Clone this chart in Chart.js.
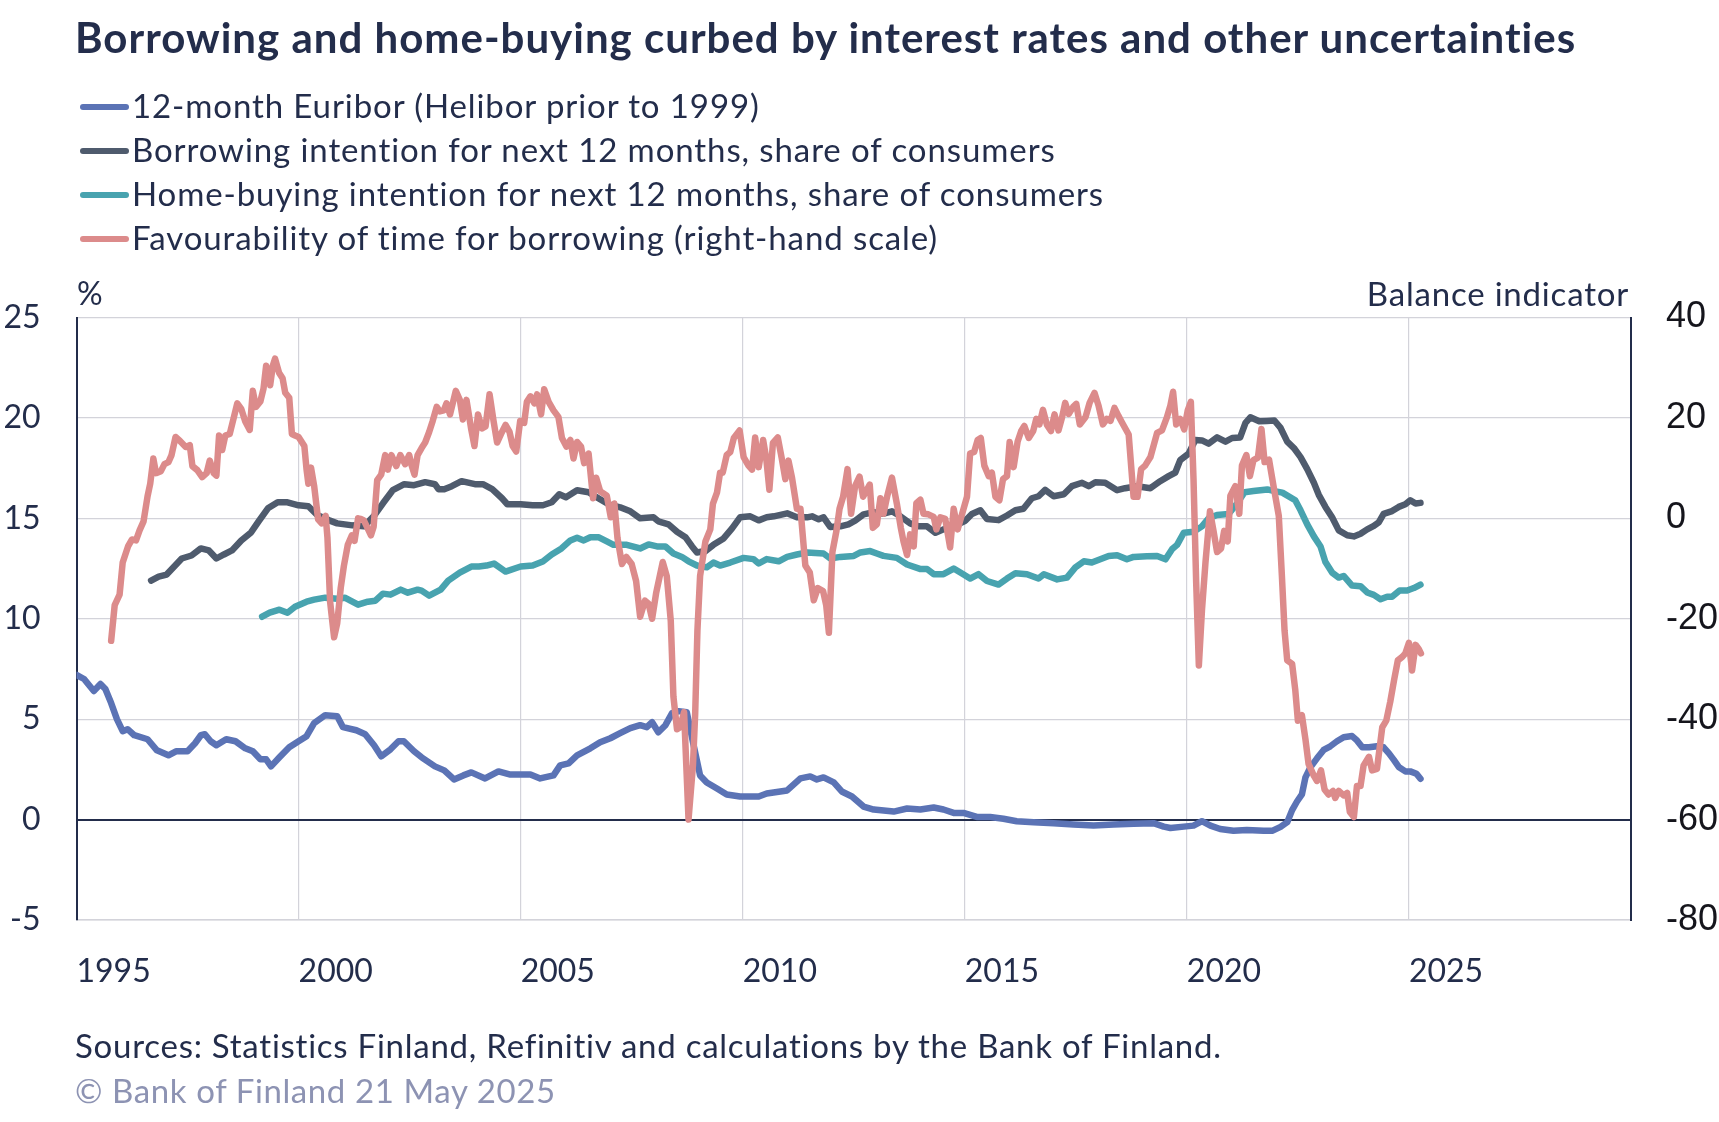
<!DOCTYPE html>
<html>
<head>
<meta charset="utf-8">
<title>Borrowing and home-buying</title>
<script src="https://cdn.jsdelivr.net/npm/chart.js@4.4.1/dist/chart.umd.min.js"></script>
<style>
  body { margin: 0; background: #fff; }
  #wrap { position: relative; width: 1719px; height: 1122px; font-family: Lato, "Open Sans", sans-serif; color: #232d4b; }
  #chart { position: absolute; left: 0; top: 0; }
  .t { position: absolute; white-space: nowrap; line-height: 1; }
  #title { left: 75px; top: 16px; font-size: 42px; font-weight: 700; letter-spacing: 1px; }
  #unitL { left: 77px; top: 277px; font-size: 32px; }
  #unitR { right: 90px; top: 277px; font-size: 33px; letter-spacing: 0.8px; }
  #src { left: 75px; top: 1029px; font-size: 33px; letter-spacing: 0.75px; }
  #copy { left: 75px; top: 1074px; font-size: 33px; letter-spacing: 0.6px; color: #8d93b3; }
  .sw { position: absolute; left: 80px; width: 49px; height: 6px; border-radius: 3px; }
  .lg { position: absolute; left: 132px; font-size: 33px; letter-spacing: 0.9px; line-height: 1; white-space: nowrap; }
</style>
</head>
<body>
<div id="wrap">
  <canvas id="chart" width="1719" height="1122"></canvas>
  <div class="t" id="title">Borrowing and home-buying curbed by interest rates and other uncertainties</div>
  <div id="legend"></div>
  <div class="t" id="unitL">%</div>
  <div class="t" id="unitR">Balance indicator</div>
  <div class="t" id="src">Sources: Statistics Finland, Refinitiv and calculations by the Bank of Finland.</div>
  <div class="t" id="copy">© Bank of Finland 21 May 2025</div>
</div>
<script>
// ── Data ────────────────────────────────────────────────────
const euriborYears = [1995.0, 1995.17, 1995.39, 1995.54, 1995.65, 1995.78, 1995.91, 1996.04, 1996.15, 1996.3,
  1996.6, 1996.81, 1997.07, 1997.24, 1997.5, 1997.67, 1997.8, 1997.89, 1998.02, 1998.15,
  1998.37, 1998.58, 1998.8, 1998.97, 1999.14, 1999.27, 1999.38, 1999.57, 1999.79, 2000.0,
  2000.18, 2000.35, 2000.6, 2000.87, 2001.0, 2001.3, 2001.5, 2001.7, 2001.86, 2002.07,
  2002.25, 2002.37, 2002.6, 2002.77, 2003.07, 2003.28, 2003.5, 2003.71, 2003.89, 2004.2,
  2004.5, 2004.75, 2005.0, 2005.22, 2005.44, 2005.74, 2005.89, 2006.08, 2006.27, 2006.57,
  2006.79, 2007.02, 2007.24, 2007.47, 2007.69, 2007.84, 2007.96, 2008.1, 2008.26, 2008.41,
  2008.56, 2008.74, 2008.89, 2009.04, 2009.19, 2009.42, 2009.64, 2009.94, 2010.36, 2010.54,
  2011.0, 2011.15, 2011.3, 2011.52, 2011.67, 2011.82, 2012.05, 2012.23, 2012.46, 2012.72,
  2012.95, 2013.4, 2013.7, 2014.0, 2014.3, 2014.52, 2014.75, 2014.97, 2015.27, 2015.57,
  2015.87, 2016.17, 2016.55, 2017.0, 2017.45, 2017.9, 2018.35, 2018.8, 2019.25, 2019.48,
  2019.63, 2019.93, 2020.15, 2020.34, 2020.53, 2020.75, 2021.05, 2021.35, 2021.73, 2021.92,
  2022.11, 2022.26, 2022.37, 2022.48, 2022.59, 2022.67, 2022.78, 2022.93, 2023.08, 2023.23,
  2023.38, 2023.53, 2023.72, 2023.83, 2023.95, 2024.1, 2024.28, 2024.43, 2024.55, 2024.66,
  2024.77, 2024.92, 2025.03, 2025.17, 2025.26];
const euriborRates = [7.2, 7.0, 6.4, 6.75, 6.5, 5.8, 5.0, 4.4, 4.5, 4.2,
  4.0, 3.45, 3.2, 3.4, 3.4, 3.8, 4.2, 4.25, 3.9, 3.7,
  4.0, 3.9, 3.55, 3.4, 3.0, 3.0, 2.65, 3.1, 3.6, 3.9,
  4.15, 4.8, 5.2, 5.15, 4.6, 4.45, 4.25, 3.7, 3.15, 3.5,
  3.9, 3.9, 3.4, 3.1, 2.65, 2.45, 2.0, 2.2, 2.35, 2.05,
  2.4, 2.25, 2.25, 2.25, 2.05, 2.2, 2.7, 2.8, 3.2, 3.55,
  3.85, 4.05, 4.3, 4.55, 4.7, 4.6, 4.85, 4.35, 4.7, 5.3,
  5.4, 5.35, 3.75, 2.2, 1.85, 1.55, 1.25, 1.15, 1.15, 1.3,
  1.45, 1.75, 2.05, 2.15, 2.0, 2.1, 1.85, 1.4, 1.15, 0.65,
  0.5, 0.4, 0.55, 0.5, 0.6, 0.5, 0.33, 0.33, 0.13, 0.13,
  0.04, -0.08, -0.13, -0.18, -0.25, -0.3, -0.25, -0.21, -0.18, -0.35,
  -0.42, -0.35, -0.3, -0.08, -0.3, -0.47, -0.56, -0.52, -0.56, -0.56,
  -0.36, -0.13, 0.47, 0.9, 1.25, 2.1, 2.6, 3.05, 3.47, 3.65,
  3.9, 4.1, 4.16, 3.94, 3.6, 3.6, 3.65, 3.6, 3.3, 2.97,
  2.62, 2.4, 2.4, 2.28, 2.03];

const borrowYears = [1996.68, 1996.85, 1997.03, 1997.2, 1997.37, 1997.59, 1997.8, 1997.98, 1998.15, 1998.32,
  1998.5, 1998.71, 1998.93, 1999.1, 1999.31, 1999.53, 1999.75, 2000.0, 2000.22, 2000.43,
  2000.69, 2000.87, 2001.21, 2001.47, 2001.69, 2001.9, 2002.12, 2002.38, 2002.6, 2002.85,
  2003.07, 2003.15, 2003.28, 2003.45, 2003.67, 2003.97, 2004.15, 2004.36, 2004.58, 2004.7,
  2005.0, 2005.27, 2005.5, 2005.7, 2005.87, 2006.02, 2006.27, 2006.53, 2006.75, 2006.98,
  2007.24, 2007.47, 2007.69, 2007.99, 2008.1, 2008.33, 2008.52, 2008.71, 2008.86, 2008.97,
  2009.16, 2009.34, 2009.57, 2009.76, 2009.94, 2010.17, 2010.36, 2010.54, 2010.7, 2011.0,
  2011.22, 2011.45, 2011.56, 2011.71, 2011.82, 2011.97, 2012.2, 2012.38, 2012.53, 2012.72,
  2012.95, 2013.17, 2013.36, 2013.55, 2013.77, 2013.96, 2014.15, 2014.34, 2014.52, 2014.75,
  2015.01, 2015.16, 2015.35, 2015.5, 2015.76, 2015.95, 2016.14, 2016.32, 2016.51, 2016.66,
  2016.81, 2017.0, 2017.23, 2017.41, 2017.64, 2017.79, 2017.94, 2018.16, 2018.43, 2018.61,
  2018.88, 2019.18, 2019.4, 2019.59, 2019.74, 2019.85, 2020.04, 2020.19, 2020.34, 2020.49,
  2020.68, 2020.87, 2021.02, 2021.2, 2021.32, 2021.43, 2021.63, 2021.8, 2021.97, 2022.11,
  2022.26, 2022.41, 2022.56, 2022.71, 2022.86, 2022.97, 2023.12, 2023.27, 2023.42, 2023.61,
  2023.76, 2023.91, 2024.06, 2024.21, 2024.32, 2024.43, 2024.62, 2024.77, 2024.92, 2025.03,
  2025.15, 2025.26];
const borrowShares = [11.9, 12.1, 12.2, 12.6, 13.0, 13.15, 13.5, 13.4, 13.0, 13.2,
  13.4, 13.9, 14.3, 14.85, 15.5, 15.8, 15.8, 15.65, 15.6, 15.15,
  14.9, 14.75, 14.65, 14.6, 15.1, 15.75, 16.4, 16.7, 16.65, 16.8,
  16.7, 16.45, 16.45, 16.6, 16.85, 16.7, 16.7, 16.45, 16.0, 15.7,
  15.7, 15.65, 15.65, 15.8, 16.2, 16.05, 16.4, 16.3, 16.0, 15.7,
  15.55, 15.35, 15.0, 15.05, 14.85, 14.7, 14.33, 14.06, 13.6, 13.3,
  13.37, 13.68, 14.0, 14.5, 15.05, 15.1, 14.9, 15.05, 15.1, 15.25,
  15.05, 15.05, 15.1, 14.95, 15.05, 14.57, 14.6, 14.7, 14.88, 15.2,
  15.3, 15.23, 15.35, 15.1, 14.75, 14.6, 14.6, 14.28, 14.45, 14.6,
  14.88, 15.22, 15.4, 14.97, 14.91, 15.14, 15.4, 15.48, 16.0, 16.1,
  16.42, 16.1, 16.2, 16.6, 16.77, 16.6, 16.8, 16.77, 16.4, 16.5,
  16.6, 16.5, 16.85, 17.1, 17.28, 17.9, 18.22, 18.9, 18.88, 18.72,
  19.03, 18.82, 19.0, 19.03, 19.75, 20.03, 19.83, 19.85, 19.87, 19.5,
  18.82, 18.5, 18.05, 17.45, 16.77, 16.17, 15.57, 15.05, 14.4, 14.16,
  14.1, 14.23, 14.45, 14.62, 14.8, 15.22, 15.36, 15.57, 15.7, 15.9,
  15.74, 15.77];

const homeYears = [1999.18, 1999.35, 1999.57, 1999.75, 1999.92, 2000.18, 2000.35, 2000.6, 2000.87, 2001.04,
  2001.34, 2001.56, 2001.73, 2001.9, 2002.07, 2002.3, 2002.46, 2002.68, 2002.77, 2002.94,
  2003.2, 2003.37, 2003.63, 2003.89, 2004.06, 2004.23, 2004.4, 2004.66, 2005.0, 2005.27,
  2005.5, 2005.7, 2005.92, 2006.12, 2006.27, 2006.42, 2006.57, 2006.75, 2006.94, 2007.09,
  2007.39, 2007.69, 2007.88, 2008.07, 2008.26, 2008.44, 2008.63, 2008.78, 2008.97, 2009.19,
  2009.34, 2009.49, 2009.72, 2010.02, 2010.24, 2010.36, 2010.54, 2010.81, 2011.0, 2011.22,
  2011.45, 2011.82, 2011.97, 2012.2, 2012.5, 2012.65, 2012.87, 2013.02, 2013.17, 2013.47,
  2013.7, 2013.99, 2014.15, 2014.3, 2014.52, 2014.75, 2014.9, 2015.12, 2015.31, 2015.5,
  2015.76, 2015.95, 2016.14, 2016.4, 2016.66, 2016.78, 2017.08, 2017.3, 2017.49, 2017.68,
  2017.86, 2018.05, 2018.24, 2018.43, 2018.65, 2018.8, 2019.1, 2019.33, 2019.52, 2019.67,
  2019.78, 2019.93, 2020.15, 2020.34, 2020.49, 2020.68, 2020.94, 2021.13, 2021.3, 2021.5,
  2021.81, 2022.0, 2022.15, 2022.44, 2022.56, 2022.71, 2022.86, 2023.01, 2023.12, 2023.27,
  2023.42, 2023.53, 2023.72, 2023.91, 2024.06, 2024.21, 2024.36, 2024.51, 2024.62, 2024.79,
  2024.96, 2025.11, 2025.26];
const homeShares = [10.1, 10.3, 10.45, 10.3, 10.6, 10.85, 10.95, 11.05, 11.0, 11.05,
  10.7, 10.85, 10.9, 11.25, 11.2, 11.45, 11.3, 11.45, 11.4, 11.15,
  11.45, 11.9, 12.3, 12.6, 12.6, 12.65, 12.75, 12.35, 12.6, 12.65,
  12.85, 13.2, 13.5, 13.9, 14.03, 13.9, 14.06, 14.06, 13.85, 13.68,
  13.68, 13.5, 13.7, 13.6, 13.6, 13.25, 13.08, 12.86, 12.65, 12.56,
  12.8, 12.65, 12.8, 13.03, 12.97, 12.75, 12.97, 12.86, 13.08, 13.2,
  13.3, 13.25, 13.0, 13.08, 13.13, 13.3, 13.37, 13.25, 13.13, 13.03,
  12.7, 12.48, 12.48, 12.22, 12.22, 12.5, 12.3, 12.0, 12.22, 11.88,
  11.7, 12.0, 12.27, 12.22, 12.0, 12.22, 11.96, 12.05, 12.56, 12.86,
  12.8, 12.96, 13.13, 13.16, 12.96, 13.08, 13.11, 13.13, 12.96, 13.47,
  13.68, 14.28, 14.33, 14.6, 15.0, 15.17, 15.22, 15.74, 16.3, 16.36,
  16.44, 16.34, 16.28, 15.9, 15.4, 14.7, 14.1, 13.6, 12.82, 12.3,
  12.05, 12.13, 11.65, 11.62, 11.31, 11.19, 10.97, 11.1, 11.1, 11.41,
  11.41, 11.53, 11.7];

// balance indicator, right-hand scale
const favourYears = [1995.78, 1995.86, 1995.97, 1996.04, 1996.16, 1996.25, 1996.34, 1996.42, 1996.51, 1996.6,
  1996.66, 1996.73, 1996.79, 1996.9, 1996.98, 1997.07, 1997.14, 1997.23, 1997.33, 1997.46,
  1997.55, 1997.61, 1997.72, 1997.83, 1997.93, 1998.0, 1998.09, 1998.15, 1998.21, 1998.28,
  1998.35, 1998.45, 1998.55, 1998.62, 1998.71, 1998.8, 1998.9, 1998.97, 1999.04, 1999.14,
  1999.21, 1999.27, 1999.36, 1999.42, 1999.47, 1999.56, 1999.64, 1999.7, 1999.79, 1999.85,
  1999.92, 2000.0, 2000.13, 2000.18, 2000.22, 2000.28, 2000.35, 2000.44, 2000.52, 2000.61,
  2000.65, 2000.71, 2000.8, 2000.87, 2000.95, 2001.02, 2001.11, 2001.2, 2001.26, 2001.34,
  2001.4, 2001.47, 2001.54, 2001.63, 2001.69, 2001.77, 2001.86, 2001.95, 2002.01, 2002.09,
  2002.2, 2002.29, 2002.4, 2002.49, 2002.55, 2002.61, 2002.68, 2002.77, 2002.85, 2002.94,
  2003.02, 2003.11, 2003.18, 2003.27, 2003.33, 2003.41, 2003.54, 2003.63, 2003.7, 2003.78,
  2003.89, 2003.96, 2004.04, 2004.13, 2004.21, 2004.3, 2004.39, 2004.47, 2004.58, 2004.66,
  2004.75, 2004.82, 2004.9, 2004.99, 2005.08, 2005.14, 2005.22, 2005.31, 2005.37, 2005.46,
  2005.53, 2005.63, 2005.74, 2005.85, 2005.93, 2006.03, 2006.12, 2006.19, 2006.27, 2006.36,
  2006.43, 2006.53, 2006.63, 2006.7, 2006.79, 2006.94, 2007.03, 2007.11, 2007.18, 2007.28,
  2007.38, 2007.5, 2007.6, 2007.69, 2007.8, 2007.88, 2007.96, 2008.05, 2008.2, 2008.29,
  2008.38, 2008.44, 2008.52, 2008.59, 2008.68, 2008.78, 2008.88, 2008.93, 2008.98, 2009.04,
  2009.16, 2009.27, 2009.33, 2009.42, 2009.49, 2009.55, 2009.64, 2009.72, 2009.8, 2009.93,
  2010.02, 2010.13, 2010.21, 2010.28, 2010.36, 2010.46, 2010.53, 2010.6, 2010.68, 2010.79,
  2010.88, 2010.96, 2011.03, 2011.11, 2011.22, 2011.3, 2011.41, 2011.51, 2011.6, 2011.69,
  2011.81, 2011.88, 2011.94, 2012.02, 2012.11, 2012.18, 2012.26, 2012.36, 2012.44, 2012.53,
  2012.63, 2012.71, 2012.86, 2012.93, 2013.02, 2013.1, 2013.17, 2013.25, 2013.36, 2013.47,
  2013.56, 2013.62, 2013.7, 2013.77, 2013.85, 2013.91, 2014.0, 2014.07, 2014.18, 2014.3,
  2014.36, 2014.45, 2014.56, 2014.67, 2014.75, 2014.84, 2014.94, 2015.05, 2015.12, 2015.21,
  2015.29, 2015.36, 2015.44, 2015.54, 2015.61, 2015.69, 2015.78, 2015.86, 2015.95, 2016.01,
  2016.1, 2016.19, 2016.27, 2016.34, 2016.44, 2016.54, 2016.61, 2016.68, 2016.76, 2016.85,
  2016.94, 2017.02, 2017.11, 2017.19, 2017.26, 2017.34, 2017.44, 2017.51, 2017.59, 2017.72,
  2017.81, 2017.92, 2018.01, 2018.11, 2018.2, 2018.28, 2018.37, 2018.46, 2018.54, 2018.69,
  2018.8, 2018.89, 2018.97, 2019.06, 2019.18, 2019.33, 2019.44, 2019.55, 2019.63, 2019.69,
  2019.76, 2019.85, 2019.94, 2020.02, 2020.09, 2020.15, 2020.21, 2020.27, 2020.34, 2020.42,
  2020.52, 2020.6, 2020.68, 2020.77, 2020.84, 2020.92, 2020.98, 2021.09, 2021.18, 2021.24,
  2021.34, 2021.42, 2021.5, 2021.6, 2021.68, 2021.75, 2021.85, 2021.96, 2022.07, 2022.14,
  2022.2, 2022.26, 2022.37, 2022.44, 2022.5, 2022.59, 2022.67, 2022.74, 2022.86, 2022.93,
  2023.02, 2023.1, 2023.19, 2023.29, 2023.34, 2023.42, 2023.53, 2023.61, 2023.67, 2023.76,
  2023.83, 2023.91, 2023.98, 2024.1, 2024.17, 2024.28, 2024.4, 2024.49, 2024.58, 2024.67,
  2024.75, 2024.85, 2024.92, 2025.0, 2025.07, 2025.15, 2025.22, 2025.27];
const favourBalance = [-24.4, -17.3, -15.2, -8.8, -5.6, -4.2, -4.4, -2.4, -0.6, 4.4,
  6.9, 11.9, 9.0, 9.4, 10.8, 11.2, 12.6, 16.2, 15.4, 14.2,
  14.6, 10.4, 9.6, 8.2, 9.0, 11.5, 9.0, 8.5, 16.5, 13.6,
  16.5, 16.8, 20.4, 22.9, 21.8, 19.3, 17.6, 25.4, 22.2, 23.3,
  25.8, 30.4, 26.5, 30.4, 31.8, 29.0, 27.9, 25.0, 24.0, 16.8,
  16.5, 16.2, 14.4, 9.7, 6.9, 10.1, 6.5, -0.2, -1.0, 0.5,
  -3.8, -16.6, -23.7, -20.9, -13.8, -9.5, -5.2, -3.4, -4.5, 0.0,
  -0.1, -0.4, -1.7, -3.4, -1.7, 7.6, 8.7, 12.6, 9.7, 12.6,
  10.4, 12.6, 10.8, 12.6, 10.4, 8.7, 12.6, 14.0, 15.1, 17.2,
  19.4, 22.2, 21.3, 21.5, 22.9, 20.7, 25.4, 23.6, 19.7, 23.6,
  17.6, 14.4, 20.7, 17.9, 18.3, 24.7, 19.4, 15.1, 17.2, 18.6,
  17.2, 14.4, 13.3, 19.4, 19.0, 23.2, 24.3, 22.9, 24.7, 20.7,
  25.7, 23.2, 21.5, 20.2, 16.0, 14.3, 15.6, 11.9, 15.2, 14.3,
  11.0, 12.9, 4.0, 8.1, 5.4, 4.5, 0.2, 2.95, -3.9, -9.1,
  -7.7, -9.1, -12.5, -19.6, -16.4, -17.0, -20.0, -14.9, -8.7, -11.5,
  -20.4, -35.5, -42.0, -41.6, -38.6, -60.0, -49.2, -38.9, -22.4, -11.5,
  -4.6, -2.2, 2.95, 5.1, 9.1, 9.1, 12.6, 13.2, 16.0, 17.5,
  12.2, 10.5, 9.7, 16.1, 10.2, 15.6, 11.9, 5.7, 15.0, 16.1,
  11.9, 7.8, 11.5, 8.1, 1.9, 1.9, -9.4, -10.8, -16.3, -13.9,
  -14.5, -17.3, -22.8, -6.7, -2.5, 1.9, 4.3, 9.8, 0.9, 6.4,
  8.3, 4.3, 6.7, -1.9, -1.2, 4.0, 0.9, 4.3, 8.1, 2.95,
  -1.9, -4.6, -7.3, -3.2, -5.6, 3.0, 3.7, 0.9, 0.8, 0.3,
  -2.2, 0.2, -0.1, -5.8, 1.9, -2.2, 0.9, 4.3, 12.9, 13.2,
  15.6, 16.0, 10.5, 8.4, 9.1, 4.3, 3.6, 7.8, 8.4, 15.2,
  10.2, 15.3, 17.4, 18.4, 16.0, 17.4, 19.8, 18.7, 21.6, 18.6,
  17.4, 20.7, 17.5, 20.1, 23.0, 20.8, 22.2, 22.8, 18.7, 20.2,
  23.0, 25.0, 22.5, 18.7, 19.8, 19.4, 22.0, 20.4, 19.1, 16.7,
  4.3, 4.3, 9.8, 10.5, 12.2, 17.0, 17.5, 20.1, 22.5, 25.2,
  18.7, 19.8, 17.7, 21.5, 23.2, 7.8, -12.8, -29.3, -18.3, -8.7,
  1.4, -2.5, -6.7, -6.0, -2.5, -4.6, 4.5, 6.4, 0.9, 10.5,
  12.6, 8.4, 11.6, 12.1, 17.8, 11.2, 11.7, 6.0, 0.5, -11.5,
  -22.4, -28.3, -29.0, -34.1, -40.3, -39.2, -44.0, -48.9, -51.3, -52.3,
  -50.2, -54.0, -55.0, -54.3, -55.7, -54.3, -55.2, -54.7, -58.5, -59.5,
  -53.3, -53.3, -49.2, -47.5, -50.2, -49.9, -41.6, -40.3, -36.5, -32.0,
  -28.3, -27.6, -26.9, -24.8, -30.3, -25.2, -26.0, -26.9];

// ── Styling ─────────────────────────────────────────────────
const NAVY = '#232d4b';
const GRID = '#d3d3da';
const FONT = 'Lato, "Open Sans", sans-serif';

const zip = (xs, ys) => xs.map((x, i) => ({ x: x, y: ys[i] }));

const series = [
  { label: '12-month Euribor (Helibor prior to 1999)', x: euriborYears, y: euriborRates, color: '#5b73b5', axis: 'y', order: 3 },
  { label: 'Borrowing intention for next 12 months, share of consumers', x: borrowYears, y: borrowShares, color: '#4f5b6d', axis: 'y', order: 2 },
  { label: 'Home-buying intention for next 12 months, share of consumers', x: homeYears, y: homeShares, color: '#48a3af', axis: 'y', order: 1 },
  { label: 'Favourability of time for borrowing (right-hand scale)', x: favourYears, y: favourBalance, color: '#dc8b8b', axis: 'y2', order: 0 },
];

// ── Legend (HTML) ───────────────────────────────────────────
const legend = document.getElementById('legend');
series.forEach((s, i) => {
  const base = 118 + i * 44;
  const sw = document.createElement('div');
  sw.className = 'sw';
  sw.style.top = (base - 14) + 'px';
  sw.style.background = s.color;
  legend.appendChild(sw);
  const tx = document.createElement('div');
  tx.className = 'lg';
  tx.style.top = (base - 29.3) + 'px';
  tx.textContent = s.label;
  legend.appendChild(tx);
});

// ── Chart ───────────────────────────────────────────────────
const ctx = document.getElementById('chart').getContext('2d');

new Chart(ctx, {
  type: 'line',
  data: {
    datasets: series.map(s => ({
      label: s.label,
      data: zip(s.x, s.y),
      yAxisID: s.axis,
      order: s.order,
      borderColor: s.color,
      backgroundColor: s.color,
      borderWidth: 6.5,
      borderJoinStyle: 'round',
      borderCapStyle: 'round',
      pointRadius: 0,
      tension: 0,
      fill: false,
    })),
  },
  options: {
    responsive: false,
    animation: false,
    layout: { padding: { top: 317.5, left: 0, right: 0, bottom: 0 } },
    plugins: { legend: { display: false }, tooltip: { enabled: false } },
    scales: {
      x: {
        type: 'linear',
        min: 1995,
        max: 2030,
        ticks: {
          stepSize: 5,
          align: 'start',
          padding: 32,
          maxRotation: 0,
          autoSkip: false,
          color: NAVY,
          font: { family: FONT, size: 32 },
          callback: v => (v < 2030 ? String(v) : ''),
        },
        grid: { color: GRID, lineWidth: 1.2, drawTicks: false },
        border: { color: GRID, width: 1.5 },
        afterFit: s => { s.height = 202; },
      },
      y: {
        position: 'left',
        min: -5,
        max: 25,
        ticks: {
          stepSize: 5,
          padding: 36,
          color: NAVY,
          font: { family: FONT, size: 32 },
        },
        grid: {
          color: c => (c.tick && c.tick.value === 0 ? NAVY : GRID),
          lineWidth: c => (c.tick && c.tick.value === 0 ? 2 : 1.2),
          drawTicks: false,
        },
        border: { color: NAVY, width: 2 },
        afterFit: s => { s.width = 76.5; },
      },
      y2: {
        position: 'right',
        min: -80,
        max: 40,
        ticks: {
          stepSize: 20,
          padding: 35,
          color: '#15151c',
          font: { family: '"Liberation Sans", Arial, sans-serif', size: 36 },
        },
        grid: { display: false, drawTicks: false },
        border: { color: NAVY, width: 2 },
        afterFit: s => { s.width = 88; },
      },
    },
  },
});
</script>
</body>
</html>
